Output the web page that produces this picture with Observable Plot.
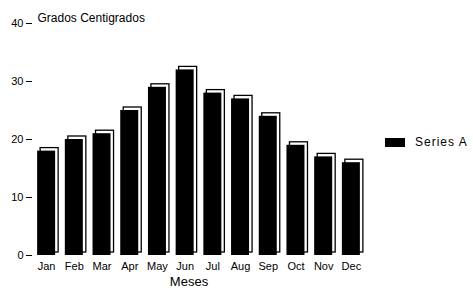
<!DOCTYPE html>
<html>
<head>
<meta charset="utf-8">
<script src="https://cdn.jsdelivr.net/npm/d3@7"></script>
<script src="https://cdn.jsdelivr.net/npm/@observablehq/plot@0.6"></script>
<style>
  body { margin: 0; background: #fff; }
  #wrap { position: relative; width: 473px; height: 293px; font-family: "Liberation Sans", Arial, sans-serif; }
  #legend { position: absolute; left: 385px; top: 135px; display: flex; align-items: center; font-size: 12px; letter-spacing: 1px; color: #000; }
  #legend .sw { width: 20px; height: 9px; background: #000; margin-right: 10px; }
</style>
</head>
<body>
<div id="wrap"></div>
<script>
const months = ["Jan","Feb","Mar","Apr","May","Jun","Jul","Aug","Sep","Oct","Nov","Dec"];
const temps = [18, 20, 21, 25, 29, 32, 28, 27, 24, 19, 17, 16];
const yTicks = [0, 10, 20, 30, 40];
const seriesName = "Series A";
const yTitle = "Grados Centigrados";
const xTitle = "Meses";

const data = months.map((m, i) => ({month: m, value: temps[i]}));

const chart = Plot.plot({
  width: 473,
  height: 293,
  marginLeft: 32,
  marginRight: 108,
  marginTop: 23,
  marginBottom: 38,
  style: {fontFamily: "Liberation Sans, Arial, sans-serif", fontSize: "11px", background: "white", color: "black"},
  x: {domain: months, paddingInner: 0.35, paddingOuter: 0.185, round: false, label: null},
  y: {domain: [0, 40], ticks: yTicks, label: null},
  marks: [
    Plot.barY(data, {x: "month", y: "value", fill: "white", stroke: "black", strokeWidth: 1.3, dx: 3, dy: -3}),
    Plot.barY(data, {x: "month", y: "value", fill: "black"}),
    Plot.axisY({ticks: yTicks, tickSize: 6, tickPadding: 3, tickFormat: d => String(d), fontSize: 11}),
    Plot.axisX({tickSize: 0, tickPadding: 7, fontSize: 11}),
    Plot.text([yTitle], {frameAnchor: "top-left", text: d => d, dx: 5, dy: -10, textAnchor: "start", fontSize: 12}),
    Plot.text([xTitle], {frameAnchor: "bottom", text: d => d, dx: -10, dy: 30, fontSize: 13, letterSpacing: "0.5px"})
  ]
});

const wrap = document.getElementById("wrap");
wrap.appendChild(chart);
const legend = document.createElement("div");
legend.id = "legend";
legend.innerHTML = `<div class="sw"></div><span></span>`;
legend.querySelector("span").textContent = seriesName;
wrap.appendChild(legend);
</script>
</body>
</html>
